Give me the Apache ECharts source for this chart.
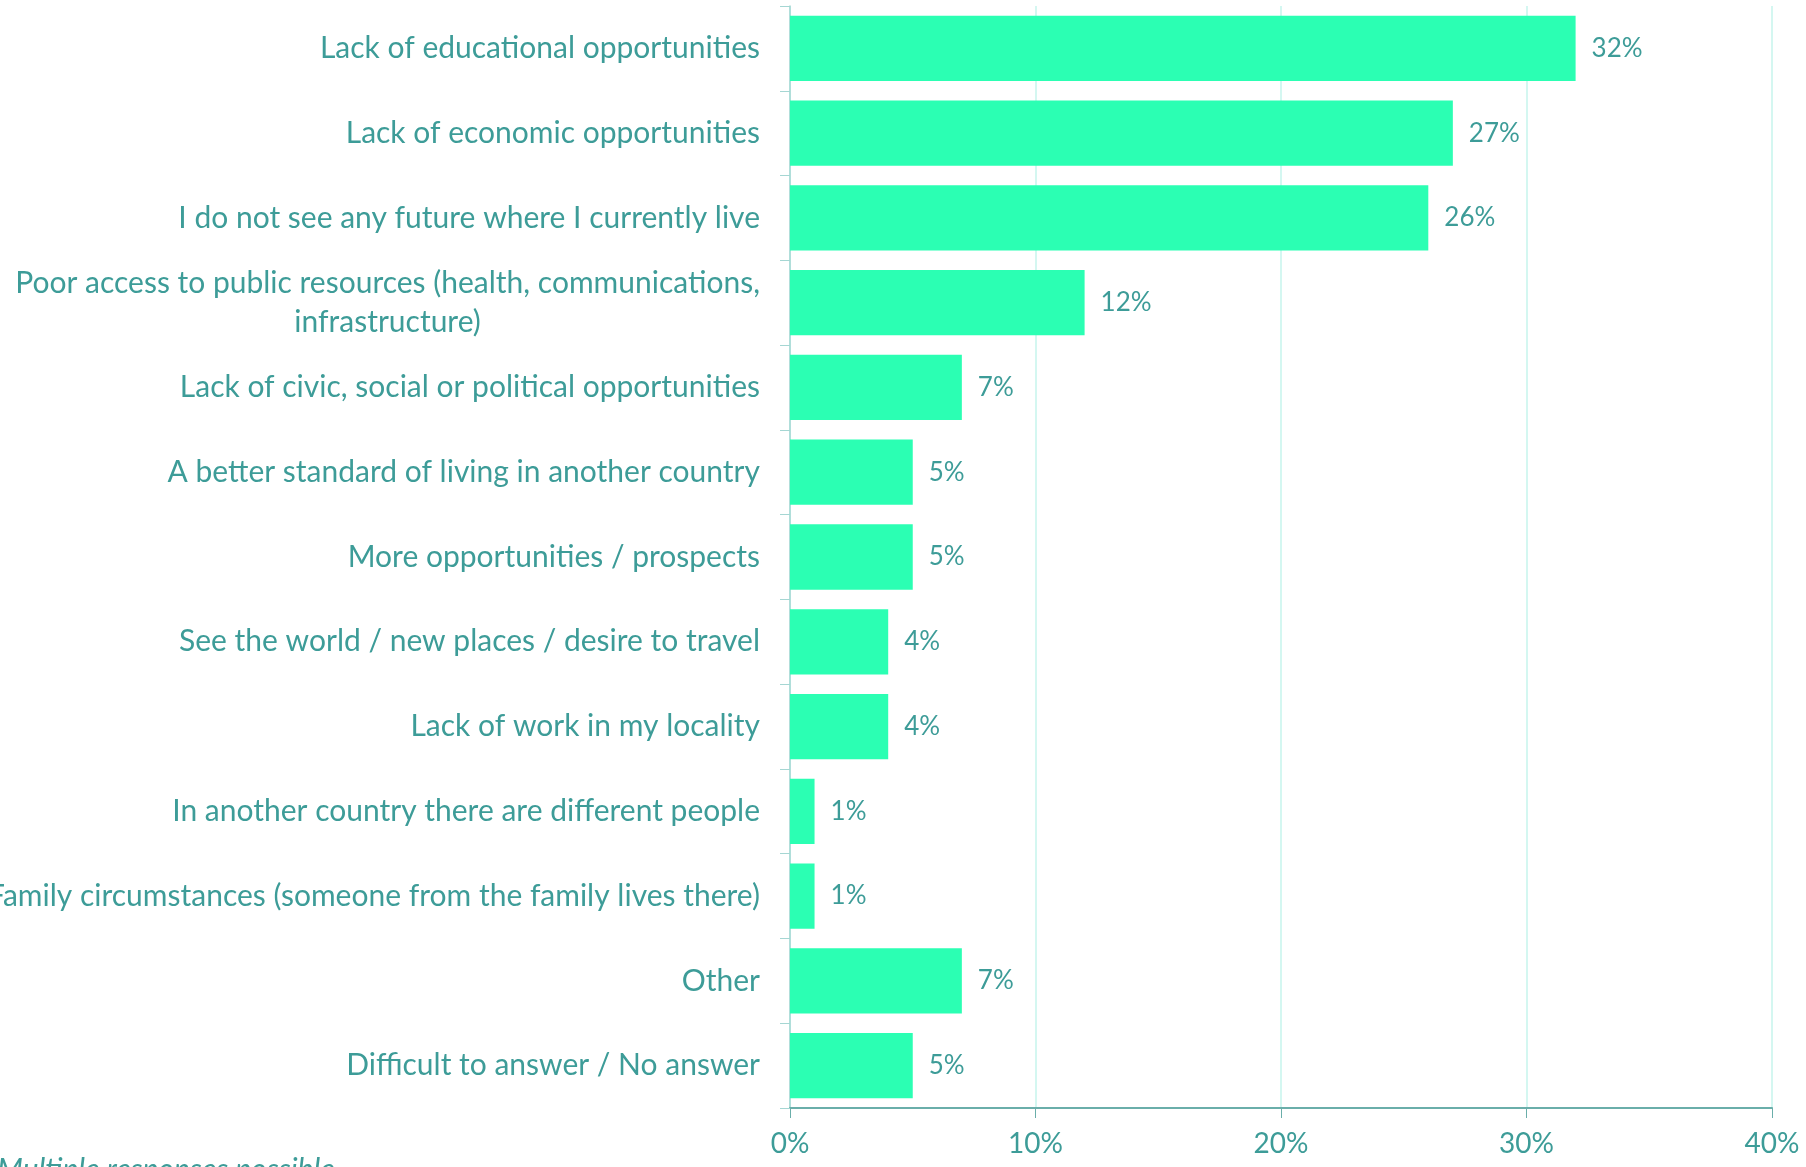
<!DOCTYPE html>
<html><head><meta charset="utf-8">
<script src="https://cdn.jsdelivr.net/npm/echarts@6/dist/echarts.min.js"></script>
<style>html,body{margin:0;padding:0;background:#fff}#c{width:1806px;height:1167px}</style>
</head><body><div id="c"></div>
<script>
const categories = [
  'Lack of educational opportunities',
  'Lack of economic opportunities',
  'I do not see any future where I currently live',
  'Poor access to public resources (health, communications,\ninfrastructure)',
  'Lack of civic, social or political opportunities',
  'A better standard of living in another country',
  'More opportunities / prospects',
  'See the world / new places / desire to travel',
  'Lack of work in my locality',
  'In another country there are different people',
  'Family circumstances (someone from the family lives there)',
  'Other',
  'Difficult to answer / No answer'
];
const values = [32, 27, 26, 12, 7, 5, 5, 4, 4, 1, 1, 7, 5];
const xTicks = [0, 10, 20, 30, 40];
const note = 'Multiple responses possible';

const TEXT = '#3d9c98';
const FONT = 'Lato';
const chart = echarts.init(document.getElementById('c'));
chart.setOption({
  animation: false,
  grid: { left: 790, right: 34, top: 6, bottom: 59, containLabel: false, outerBoundsMode: 'none' },
  xAxis: {
    type: 'value', min: xTicks[0], max: xTicks[xTicks.length - 1], interval: 10,
    axisLine: { show: true, lineStyle: { color: '#6aaeaa', width: 2 } },
    axisTick: { show: true, length: 10, lineStyle: { color: '#6aaeaa' } },
    splitLine: { show: true, lineStyle: { color: '#c6f5ec', width: 1.5 } },
    axisLabel: { formatter: '{value}%', color: TEXT, fontFamily: FONT, fontSize: 28, margin: 22 }
  },
  yAxis: {
    type: 'category', data: categories, inverse: true,
    axisLine: { show: true, lineStyle: { color: '#a5d6d3', width: 1.5 } },
    axisTick: { show: true, length: 10, lineStyle: { color: '#a5d6d3' } },
    axisLabel: {
      color: TEXT, fontFamily: FONT, fontSize: 30, margin: 30, lineHeight: 39,
      formatter: v => v.indexOf('\n') >= 0 ? v.split('\n').map(s => '{c|' + s + '}').join('\n') : v,
      rich: { c: { align: 'center', color: TEXT, fontFamily: FONT, fontSize: 30, lineHeight: 39 } }
    }
  },
  series: [{
    type: 'bar', data: values, barWidth: '77%',
    itemStyle: { color: '#2bffb3' },
    label: { show: true, position: 'right', distance: 16, formatter: '{c}%', color: TEXT, fontFamily: FONT, fontSize: 26 }
  }],
  graphic: [{
    type: 'text', left: -3, top: 1155,
    style: { text: note, fill: TEXT, font: 'italic 30px Lato' }
  }]
});
</script></body></html>
